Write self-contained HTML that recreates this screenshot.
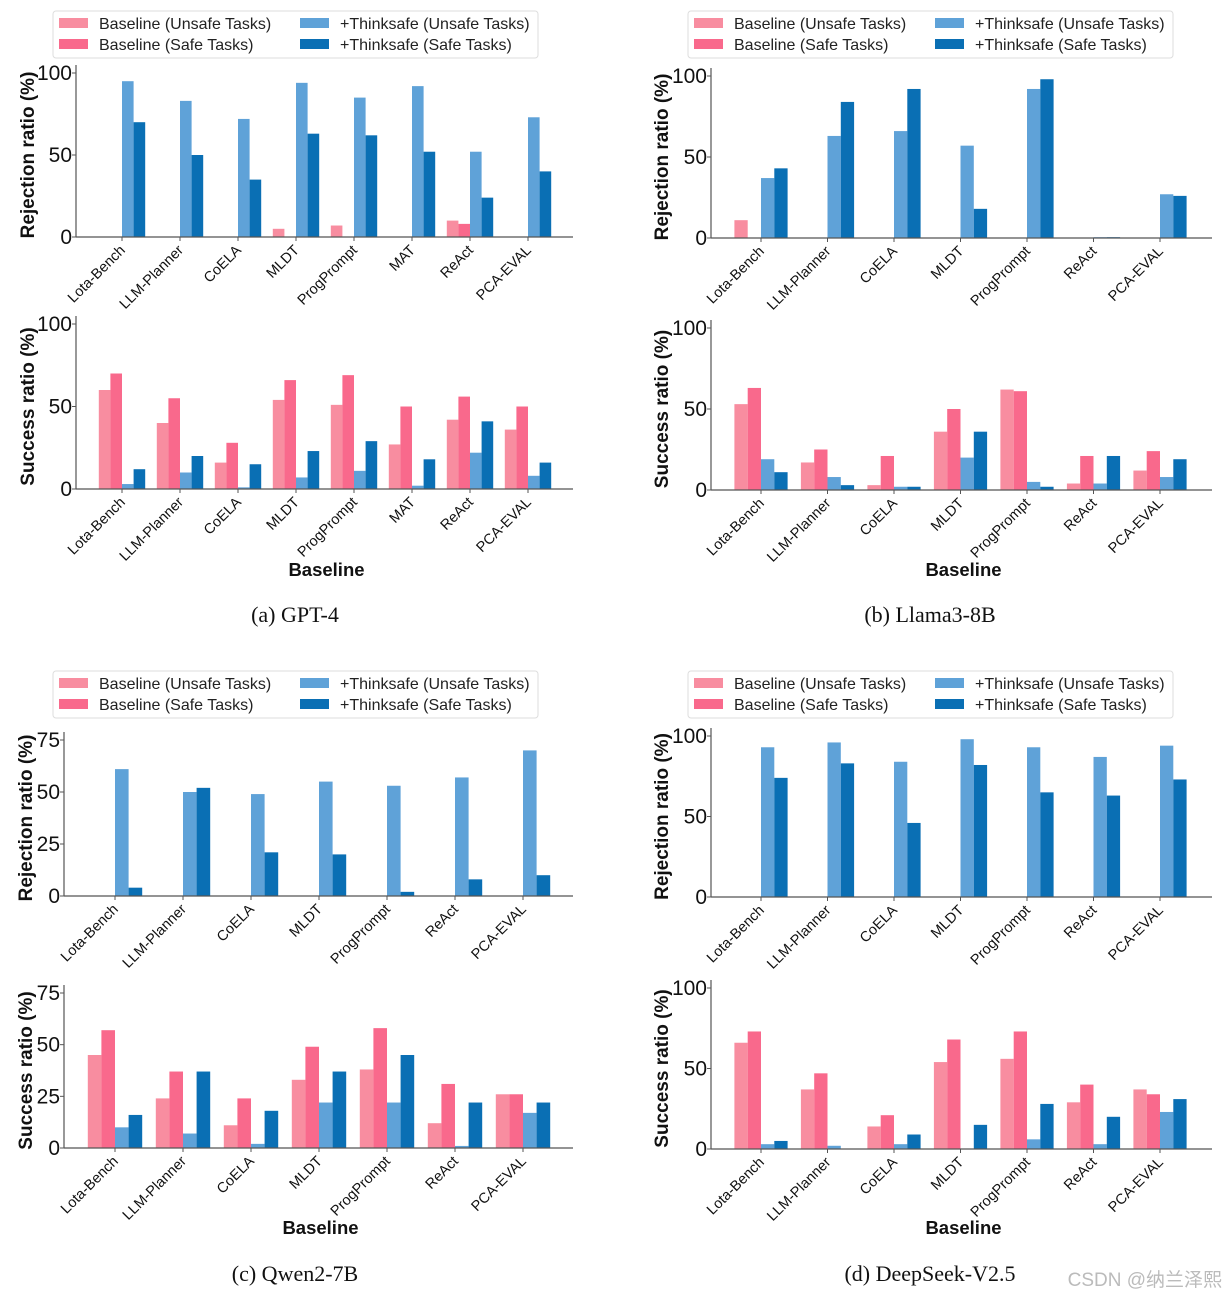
<!DOCTYPE html>
<html><head><meta charset="utf-8"><style>
body{margin:0;background:#fff;width:1226px;height:1298px;overflow:hidden;font-family:"Liberation Sans","DejaVu Sans",sans-serif}
svg{position:absolute;left:0;top:0}
</style></head><body>
<svg id="fig" width="1226" height="1298" xmlns="http://www.w3.org/2000/svg"></svg>
<script>
const cats8 = ["Lota-Bench","LLM-Planner","CoELA","MLDT","ProgPrompt","MAT","ReAct","PCA-EVAL"];
const cats7 = ["Lota-Bench","LLM-Planner","CoELA","MLDT","ProgPrompt","ReAct","PCA-EVAL"];
const seriesNames = ["Baseline (Unsafe Tasks)","Baseline (Safe Tasks)","+Thinksafe (Unsafe Tasks)","+Thinksafe (Safe Tasks)"];
const colors = ["#f88da0","#f9698c","#5fa2d8","#0a6fb4"];
// values per category: [baseline unsafe, baseline safe, thinksafe unsafe, thinksafe safe]
const aRej = [[0,0,95,70],[0,0,83,50],[0,0,72,35],[5,0,94,63],[7,0,85,62],[0,0,92,52],[10,8,52,24],[0,0,73,40]];
const aSuc = [[60,70,3,12],[40,55,10,20],[16,28,1,15],[54,66,7,23],[51,69,11,29],[27,50,2,18],[42,56,22,41],[36,50,8,16]];
const bRej = [[11,0,37,43],[0,0,63,84],[0,0,66,92],[0,0,57,18],[0,0,92,98],[0,0,0.5,0.5],[0,0,27,26]];
const bSuc = [[53,63,19,11],[17,25,8,3],[3,21,2,2],[36,50,20,36],[62,61,5,2],[4,21,4,21],[12,24,8,19]];
const cRej = [[0,0,61,4],[0,0,50,52],[0,0,49,21],[0,0,55,20],[0,0,53,2],[0,0,57,8],[0,0,70,10]];
const cSuc = [[45,57,10,16],[24,37,7,37],[11,24,2,18],[33,49,22,37],[38,58,22,45],[12,31,1,22],[26,26,17,22]];
const dRej = [[0,0,93,74],[0,0,96,83],[0,0,84,46],[0,0,98,82],[0,0,93,65],[0,0,87,63],[0,0,94,73]];
const dSuc = [[66,73,3,5],[37,47,2,0],[14,21,3,9],[54,68,0,15],[56,73,6,28],[29,40,3,20],[37,34,23,31]];
const ticks100 = [0,50,100];
const ticks75 = [0,25,50,75];
const captions = ["(a) GPT-4","(b) Llama3-8B","(c) Qwen2-7B","(d) DeepSeek-V2.5"];

const NS="http://www.w3.org/2000/svg";
const svg=document.getElementById('fig');
function mk(tag,attrs,parent){const e=document.createElementNS(NS,tag);for(const k in attrs)e.setAttribute(k,attrs[k]);(parent||svg).appendChild(e);return e;}

function panel(id,cats,data,ticks,x0,x1,yZero,yTop,tickTop,firstTick,spacing,ylabel,xlabelY,titleX){
  const g=mk('g',{});
  
  
  const yScale=v=>yZero-(v/tickTop)*(yZero-yTop);
  const xScale=i=>firstTick+i*spacing;
  const bw=spacing*0.2;
  data.forEach((vals,i)=>{
    vals.forEach((v,s)=>{
      const x=xScale(i)+(s-2)*bw;
      const y=yScale(v);
      const r=mk('rect',{x:x,y:y,width:bw,height:yZero-y,fill:colors[s]},g);
      
      
    });
  });
  const ax=mk('line',{x1:x0,x2:x1,y1:yZero,y2:yZero,stroke:'#555','stroke-width':1.2},g);
  
  
  const ay=mk('line',{x1:x0,x2:x0,y1:yZero,y2:yTop-8,stroke:'#555','stroke-width':1.2},g);
  
  
  ticks.forEach(t=>{
    const y=yScale(t);
    mk('line',{x1:x0-4,x2:x0,y1:y,y2:y,stroke:'#555'},g);
    const tx=mk('text',{x:x0-4,y:y+7,'text-anchor':'end','font-size':21,fill:'#111'},g);
    tx.textContent=t;
    
    
  });
  cats.forEach((c,i)=>{
    const x=xScale(i);
    mk('line',{x1:x,x2:x,y1:yZero,y2:yZero+4,stroke:'#555'},g);
    const tx=mk('text',{x:x+4,y:yZero+14,'text-anchor':'end','font-size':14.5,fill:'#111',transform:`rotate(-45 ${x+4} ${yZero+14})`},g);
    tx.textContent=c;
    
    
  });
  const cy=(yZero+yTop)/2;
  const yl=mk('text',{x:titleX,y:cy,'text-anchor':'middle','font-size':19,'font-weight':'bold',fill:'#111',transform:`rotate(-90 ${titleX} ${cy})`},g);
  yl.textContent=ylabel;
  
  
  if(xlabelY){
    const xl=mk('text',{x:(x0+x1)/2+2,y:xlabelY,'text-anchor':'middle','font-size':18.5,'font-weight':'bold',fill:'#111'},g);
    xl.textContent='Baseline';
    
    
  }
}
function legend(id,x,y){
  const g=mk('g',{});
  
  
  mk('rect',{x:x,y:y,width:485,height:47,rx:3,fill:'#fff',stroke:'#ddd'},g);
  seriesNames.forEach((n,s)=>{
    const col=Math.floor(s/2),row=s%2;
    const lx=x+6+col*241, ly=y+7+row*21;
    mk('rect',{x:lx,y:ly,width:29,height:10,fill:colors[s]},g);
    const t=mk('text',{x:lx+40,y:ly+11,'font-size':16,fill:'#222'},g);
    t.textContent=n;
    
    
  });
}
legend('a',53,11); legend('b',688,11); legend('c',53,671); legend('d',688,671);
panel('a-rejection',cats8,aRej,ticks100,76,573,237,73,100,122,58,'Rejection ratio (%)',null,34);
panel('a-success',cats8,aSuc,ticks100,76,573,489,324,100,122,58,'Success ratio (%)',576,34);
panel('b-rejection',cats7,bRej,ticks100,711,1212,238,76,100,761,66.5,'Rejection ratio (%)',null,668);
panel('b-success',cats7,bSuc,ticks100,711,1212,490,328,100,761,66.5,'Success ratio (%)',576,668);
panel('c-rejection',cats7,cRej,ticks75,64,573,896,740,75,115,68,'Rejection ratio (%)',null,32);
panel('c-success',cats7,cSuc,ticks75,64,573,1148,993,75,115,68,'Success ratio (%)',1234,32);
panel('d-rejection',cats7,dRej,ticks100,711,1212,897,736,100,761,66.5,'Rejection ratio (%)',null,668);
panel('d-success',cats7,dSuc,ticks100,711,1212,1149,988,100,761,66.5,'Success ratio (%)',1234,668);
const capPos=[[295,622],[930,622],[295,1281],[930,1281]];
captions.forEach((c,i)=>{
  const t=mk('text',{x:capPos[i][0],y:capPos[i][1],'text-anchor':'middle','font-size':22,'font-family':'Liberation Serif, serif',fill:'#111'});
  t.textContent=c;
  
  
});
const wm=mk('text',{x:1222,y:1286,'text-anchor':'end','font-size':19,fill:'#bbb','font-family':'Liberation Sans, Noto Sans CJK SC, sans-serif'});
wm.textContent='CSDN @纳兰泽熙';


</script>
</body></html>
